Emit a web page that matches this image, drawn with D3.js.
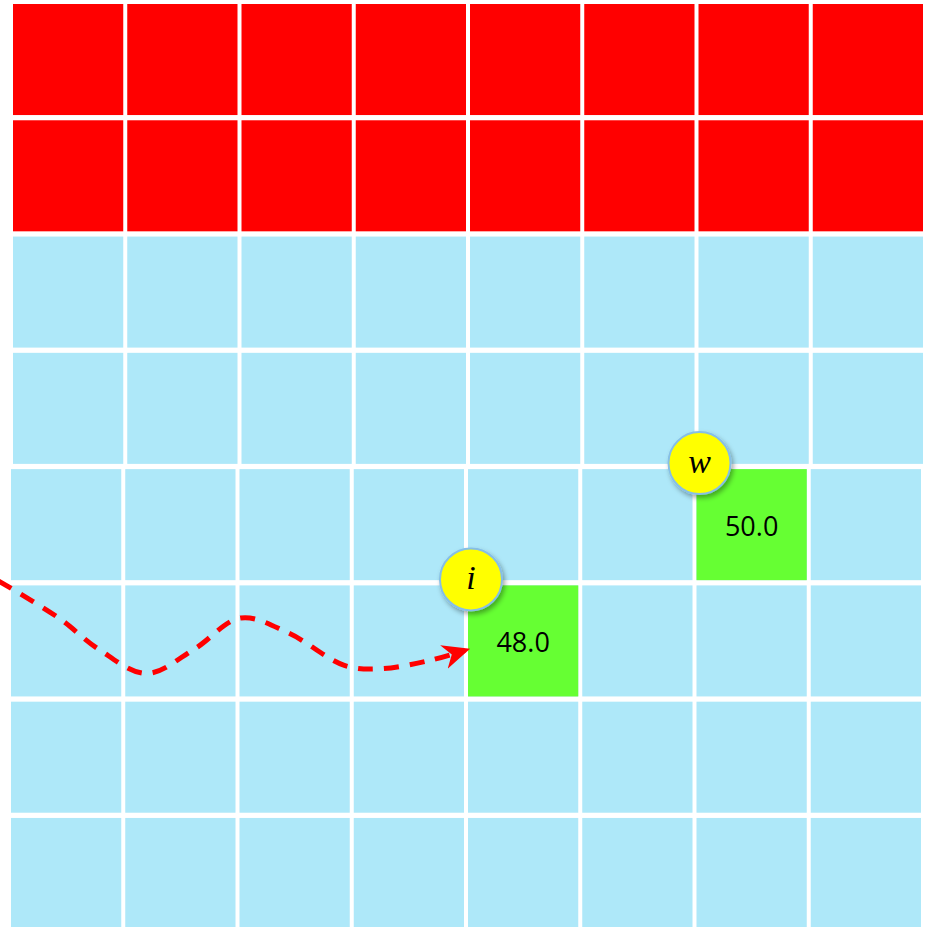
<!DOCTYPE html>
<html>
<head>
<meta charset="utf-8">
<script src="https://cdn.jsdelivr.net/npm/d3@7"></script>
<style>
  body { margin: 0; background: #fff; }
</style>
</head>
<body>
<div id="chart"></div>
<script>
// grid of 8 x 8 cells
var rows = [0, 1, 2, 3, 4, 5, 6, 7];
var cols = [0, 1, 2, 3, 4, 5, 6, 7];
var redRows = [0, 1];

// highlighted cells
var hiRows = [5, 4];
var hiCols = [4, 6];
var hiValues = [48.0, 50.0];
var hiLabels = ["i", "w"];

// dashed wave path, in grid units (columns, rows)
var waveU = [-0.11, 0.42, 0.77, 1.19, 1.61, 2.02, 2.44, 2.93, 3.24, 3.67, 3.99];
var waveV = [4.99, 5.31, 5.58, 5.79, 5.58, 5.31, 5.44, 5.72, 5.75, 5.68, 5.59];

var width = 926, height = 927;

var svg = d3.select("#chart")
  .append("svg")
    .attr("width", width)
    .attr("height", height);

var x = d3.scaleBand()
    .domain(cols)
    .range([11, 921])
    .paddingInner(0.035);

var y = d3.scaleBand()
    .domain(rows)
    .range([4, 929])
    .paddingInner(0.045);

// continuous versions for annotations
var gx = d3.scaleLinear().domain([0, 8]).range([11, 921]);
var gy = d3.scaleLinear().domain([0, 8]).range([4, 929]);

var defs = svg.append("defs");

var shadow = defs.append("filter")
    .attr("id", "shadow")
    .attr("x", "-30%").attr("y", "-30%")
    .attr("width", "160%").attr("height", "160%");
shadow.append("feDropShadow")
    .attr("dx", 2).attr("dy", 3)
    .attr("stdDeviation", 2.5)
    .attr("flood-color", "#000")
    .attr("flood-opacity", 0.35);

defs.append("marker")
    .attr("id", "arrow")
    .attr("viewBox", "0 0 10 10")
    .attr("refX", 8).attr("refY", 5)
    .attr("markerWidth", 5.5).attr("markerHeight", 5.5)
    .attr("markerUnits", "strokeWidth")
    .attr("orient", "auto")
  .append("path")
    .attr("d", "M0,0.5 L10,5 L0,9.5 L3,5 Z")
    .attr("fill", "#ff0000");

var cells = [];
rows.forEach(function(r) {
  cols.forEach(function(c) {
    cells.push({row: r, col: c});
  });
});

// top half of the grid sits a couple of pixels to the right
svg.append("g")
  .selectAll("rect")
  .data(cells)
  .enter().append("rect")
    .attr("x", function(d) { return x(d.col) + (d.row < 4 ? 2 : 0); })
    .attr("y", function(d) { return y(d.row); })
    .attr("width", x.bandwidth())
    .attr("height", y.bandwidth())
    .attr("fill", function(d) {
      return redRows.indexOf(d.row) >= 0 ? "#ff0000" : "#aee8f9";
    });

var hi = hiRows.map(function(r, i) {
  return {row: r, col: hiCols[i], value: hiValues[i], label: hiLabels[i]};
});

svg.append("g")
  .selectAll("rect")
  .data(hi)
  .enter().append("rect")
    .attr("x", function(d) { return x(d.col); })
    .attr("y", function(d) { return y(d.row); })
    .attr("width", x.bandwidth())
    .attr("height", y.bandwidth())
    .attr("fill", "#66ff33");

svg.append("g")
  .selectAll("text")
  .data(hi)
  .enter().append("text")
    .attr("x", function(d) { return x(d.col) + x.bandwidth() / 2; })
    .attr("y", function(d) { return y(d.row) + y.bandwidth() / 2 + 1; })
    .attr("text-anchor", "middle")
    .attr("dominant-baseline", "central")
    .attr("font-family", "'Open Sans', 'Noto Sans', sans-serif")
    .attr("font-size", 27)
    .attr("fill", "#000")
    .text(function(d) { return d3.format(".1f")(d.value); });

// wave
var line = d3.line()
    .x(function(d) { return gx(d[0]); })
    .y(function(d) { return gy(d[1]); })
    .curve(d3.curveCatmullRom);

svg.append("path")
    .datum(waveU.map(function(u, i) { return [u, waveV[i]]; }))
    .attr("d", line)
    .attr("fill", "none")
    .attr("stroke", "#ff0000")
    .attr("stroke-width", 5)
    .attr("stroke-dasharray", "15 11")
    .attr("marker-end", "url(#arrow)");

// badges at the top-left corner of each highlighted cell
var badge = svg.append("g")
  .selectAll("g")
  .data(hi)
  .enter().append("g")
    .attr("transform", function(d) {
      return "translate(" + (x(d.col) + 3) + "," + (y(d.row) - 6) + ")";
    });

badge.append("circle")
    .attr("r", 31)
    .attr("fill", "#ffff00")
    .attr("stroke", "#86bfe6")
    .attr("stroke-width", 2)
    .attr("filter", "url(#shadow)");

badge.append("text")
    .attr("text-anchor", "middle")
    .attr("dominant-baseline", "central")
    .attr("y", -2)
    .attr("font-family", "'Liberation Serif', 'DejaVu Serif', serif")
    .attr("font-style", "italic")
    .attr("font-size", 34)
    .attr("fill", "#000")
    .text(function(d) { return d.label; });
</script>
</body>
</html>
